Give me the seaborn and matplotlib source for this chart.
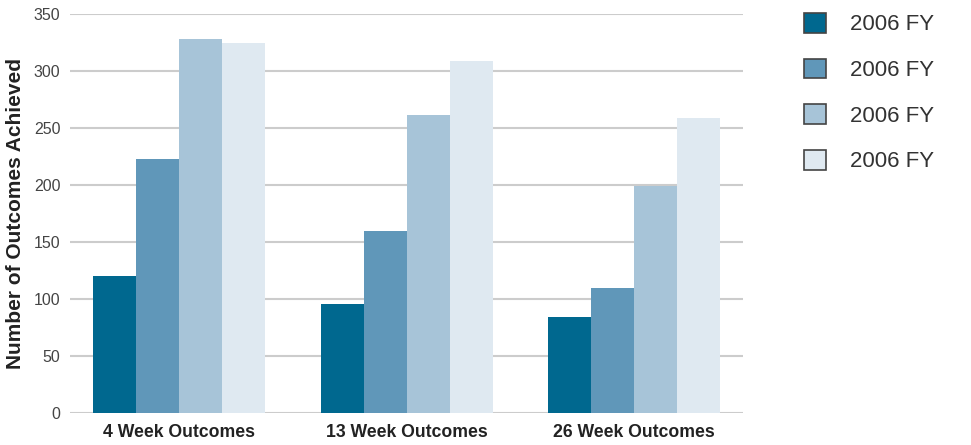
import pandas as pd
import matplotlib
matplotlib.use('Agg')
import matplotlib.pyplot as plt
import seaborn as sns
from matplotlib.patches import Patch

# Valores
outcomes = ['4 Week Outcomes', '13 Week Outcomes', '26 Week Outcomes']
series = ['s1', 's2', 's3', 's4']
legend_labels = ['2006 FY', '2006 FY', '2006 FY', '2006 FY']
s1 = [120, 96, 84]
s2 = [223, 160, 110]
s3 = [328, 261, 199]
s4 = [325, 309, 259]
colors = ['#00688f', '#6097b9', '#a7c4d8', '#dfe9f1']
yticks = [0, 50, 100, 150, 200, 250, 300, 350]

rows = []
for name, vals in zip(series, [s1, s2, s3, s4]):
    for o, v in zip(outcomes, vals):
        rows.append({'outcome': o, 'series': name, 'value': v})
df = pd.DataFrame(rows)

sns.set_style('white')
plt.rcParams['font.family'] = ['Liberation Sans', 'DejaVu Sans']

fig = plt.figure(figsize=(9.71, 4.45), dpi=100)
ax = fig.add_axes([0.0721, 0.0719, 0.6931, 0.8966])

sns.barplot(data=df, x='outcome', y='value', hue='series', palette=colors,
            saturation=1, width=0.756, linewidth=0, ax=ax, legend=False)

ax.set_ylim(0, 350)
ax.set_xlim(-0.479, 2.479)
ax.set_yticks(yticks)
ax.yaxis.grid(True, color='#cccccc', linewidth=1.5)
ax.set_axisbelow(True)
for s in ax.spines.values():
    s.set_visible(False)
ax.tick_params(axis='both', length=0)
ax.tick_params(axis='y', pad=7, labelsize=11.5, labelcolor='#444444')
ax.tick_params(axis='x', pad=8, labelsize=12.7)
for t in ax.get_xticklabels():
    t.set_fontweight('bold')
    t.set_color('#222222')
ax.set_xlabel('')
ax.set_ylabel('Number of Outcomes Achieved', fontsize=15, fontweight='bold',
              color='#222222', labelpad=6)

handles = [Patch(facecolor=c, edgecolor='#444444', linewidth=1.2) for c in colors]
fig.legend(handles, legend_labels, loc='upper left', bbox_to_anchor=(0.828, 0.971),
           frameon=False, fontsize=16, borderpad=0, borderaxespad=0,
           handlelength=1.0, handleheight=1.0,
           handletextpad=1.05, labelspacing=1.04, labelcolor='#333333')

fig.savefig('out.png', dpi=100)
